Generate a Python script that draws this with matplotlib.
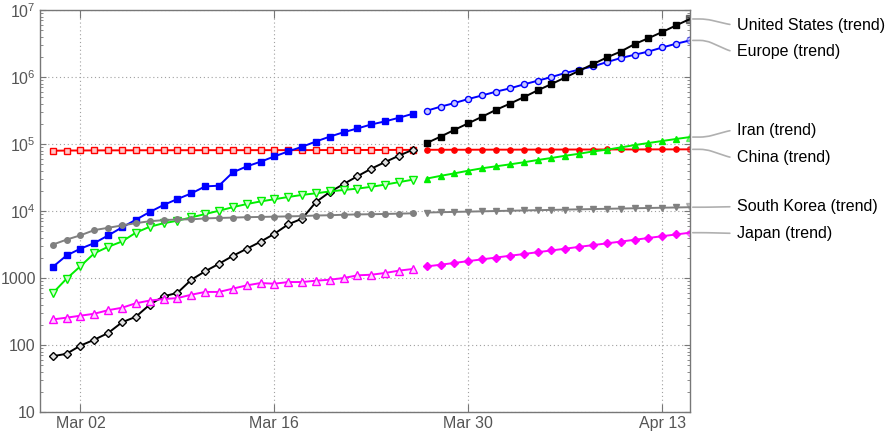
import numpy as np
import pandas as pd
import matplotlib
matplotlib.use("Agg")
import matplotlib.pyplot as plt
import matplotlib.dates as mdates
from matplotlib.ticker import FixedLocator, LogLocator, NullFormatter, FuncFormatter

plt.rcParams['font.family'] = ['Liberation Sans', 'DejaVu Sans']
plt.rcParams['mathtext.default'] = 'regular'

# observed days and trend days
dates_actual = pd.date_range("2020-02-29", "2020-03-26")
dates_trend = pd.date_range("2020-03-27", "2020-04-15")

china_actual = [79400, 79900, 80100, 80300, 80400, 80500, 80600, 80700, 80700, 80800,
                80800, 80900, 80900, 80900, 81000, 81000, 81000, 81100, 81100, 81200,
                81300, 81300, 81400, 81500, 81600, 81700, 81800]
china_trend = [82000, 82100, 82200, 82200, 82300, 82400, 82400, 82500, 82600, 82600,
               82700, 82800, 82800, 82900, 83000, 83000, 83100, 83200, 83200, 83300]

europe_actual = [1460, 2170, 2740, 3320, 4320, 5690, 7410, 9660, 12300, 15100,
                 18300, 23300, 23900, 37700, 46300, 54400, 65300, 77600, 91000, 109000,
                 129000, 150000, 171000, 196000, 218000, 247000, 283000]
europe_trend = [314000, 361000, 409000, 470000, 531000, 605000, 677000, 776000, 880000, 1000000,
                1150000, 1290000, 1440000, 1670000, 1920000, 2150000, 2400000, 2760000, 3140000, 3520000]

us_actual = [68, 74, 98, 120, 151, 218, 264, 400, 533, 600,
             940, 1260, 1630, 2140, 2730, 3480, 4570, 6330, 7700, 13600,
             19200, 25300, 33100, 42900, 53900, 67100, 82300]
us_trend = [103500, 129000, 163000, 204000, 256000, 324000, 400000, 500000, 632000, 785000,
            986000, 1240000, 1560000, 1960000, 2400000, 3100000, 3800000, 4700000, 5900000, 7350000]

iran_actual = [593, 978, 1500, 2340, 2920, 3510, 4750, 5820, 6570, 7160,
               8040, 9000, 10100, 11400, 12700, 13900, 15000, 16200, 17400, 18400,
               19600, 20600, 21600, 23000, 24800, 27000, 29400]
iran_trend = [30500, 33500, 36500, 40000, 43500, 46500, 49700, 53400, 57700, 61900,
              66900, 71600, 77600, 82300, 89000, 96500, 103500, 111000, 119000, 127000]

korea_actual = [3150, 3740, 4340, 5190, 5620, 6090, 6590, 7040, 7310, 7480,
                7510, 7760, 7870, 7980, 8090, 8160, 8240, 8320, 8410, 8570,
                8650, 8800, 8900, 8960, 9040, 9140, 9240]
korea_trend = [9500, 9600, 9700, 9800, 9900, 10000, 10100, 10200, 10300, 10400,
               10500, 10600, 10700, 10800, 10900, 11000, 11100, 11200, 11300, 11400]

japan_actual = [241, 256, 274, 293, 331, 360, 420, 461, 485, 502,
                563, 620, 620, 694, 776, 842, 822, 871, 871, 912,
                944, 1000, 1097, 1120, 1190, 1290, 1365]
japan_trend = [1490, 1580, 1680, 1790, 1900, 2020, 2150, 2280, 2430, 2580,
               2740, 2920, 3100, 3290, 3500, 3720, 3960, 4210, 4470, 4750]

names = ["China", "Europe", "United States", "Iran", "South Korea", "Japan"]
actuals = [china_actual, europe_actual, us_actual, iran_actual, korea_actual, japan_actual]
trends = [china_trend, europe_trend, us_trend, iran_trend, korea_trend, japan_trend]
colors = ["#ff0000", "#0000ff", "#000000", "#00ee00", "#808080", "#ff00ff"]
tints = ["#ffc8c8", "#c8c8ff", "#e0e0e0", "#d0ffd0", "#e0e0e0", "#ffd0ff"]
# (marker, filled, size) for observed and trend
act_marks = [("s", False, 4.6), ("s", True, 4.6), ("D", False, 4.0),
             ("v", False, 5.4), ("o", True, 4.0), ("^", False, 5.4)]
trend_marks = [("o", True, 3.8), ("o", False, 4.4), ("s", True, 4.6),
               ("^", True, 4.8), ("v", True, 4.8), ("D", True, 3.8)]
# label heights in axes fraction
label_y = [0.632, 0.896, 0.9627, 0.7015, 0.5107, 0.4445]

fig = plt.figure(figsize=(8.91, 4.36), dpi=100)
ax = fig.add_axes([0.0449, 0.055, 0.7295, 0.922])

def draw(x, y, c, tint, mk, last_light=False):
    m, filled, ms = mk
    fc = c if filled else tint
    if last_light:
        ax.plot(x, y, color=c, lw=1.4, marker=m, ms=ms, mfc=fc, mec=c, mew=1.0,
                markevery=slice(0, len(y) - 1))
        ax.plot(x[-1:], y[-1:], ls="none", marker=m, ms=ms + 0.6, mfc=fc, mec=c,
                mew=1.0, alpha=0.5)
    else:
        ax.plot(x, y, color=c, lw=1.4, marker=m, ms=ms, mfc=fc, mec=c, mew=1.0)

for i in range(len(names)):
    draw(dates_actual, actuals[i], colors[i], tints[i], act_marks[i])
    draw(dates_trend, trends[i], colors[i], tints[i], trend_marks[i], last_light=True)
    ax.annotate(names[i] + " (trend)",
                xy=(mdates.date2num(dates_trend[-1]), trends[i][-1]), xycoords="data",
                xytext=(1.072, label_y[i]), textcoords="axes fraction",
                ha="left", va="center", fontsize=11.5, color="black",
                annotation_clip=False,
                arrowprops=dict(arrowstyle="-", color="#b0b0b0", lw=1.2,
                                shrinkA=3, shrinkB=2, relpos=(0, 0.5),
                                connectionstyle="arc,angleA=180,armA=5,angleB=0,armB=16,rad=6"))

ax.set_yscale("log")
ax.set_ylim(10, 1e7)
ax.set_xlim(mdates.date2num(pd.Timestamp("2020-02-28 02:00")),
            mdates.date2num(pd.Timestamp("2020-04-15")))

tick_dates = pd.to_datetime(["2020-03-02", "2020-03-16", "2020-03-30", "2020-04-13"])
ax.set_xticks(mdates.date2num(tick_dates))
ax.xaxis.set_major_formatter(mdates.DateFormatter("%b %d"))

def ylab(v, pos):
    p = int(round(np.log10(v)))
    if p <= 3:
        return str(int(round(v)))
    return r"$10^{%d}$" % p

ax.yaxis.set_major_locator(FixedLocator([1e1, 1e2, 1e3, 1e4, 1e5, 1e6, 1e7]))
ax.yaxis.set_minor_locator(LogLocator(base=10, subs=np.arange(2, 10), numticks=20))
ax.yaxis.set_major_formatter(FuncFormatter(ylab))
ax.yaxis.set_minor_formatter(NullFormatter())

ax.grid(True, which="major", ls=(0, (1, 2.5)), color="#a0a0a0", lw=0.8)
for s in ax.spines.values():
    s.set_color("#777777")
    s.set_linewidth(1.0)

ax.tick_params(axis="both", which="both", direction="in", top=True, right=True,
               colors="#777777", labelcolor="#555555", labelsize=11.5)
ax.tick_params(axis="x", which="major", length=6, pad=3)
ax.tick_params(axis="y", which="major", length=4, pad=3)
ax.tick_params(axis="y", which="minor", length=2)

fig.savefig("out.png", dpi=100)
